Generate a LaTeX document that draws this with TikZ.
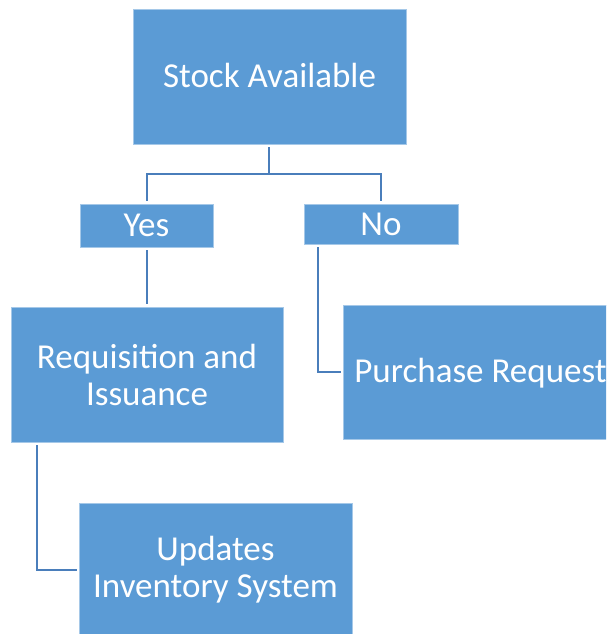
\documentclass[tikz,border=0pt]{standalone}
\usepackage{fontspec}
\setmainfont{Carlito}
\definecolor{boxblue}{HTML}{5B9BD5}
\definecolor{linkblue}{HTML}{4A7EBB}
\tikzset{
  block/.style={rectangle, fill=boxblue, draw=white!45!boxblue, line width=0.8pt,
    text=white, align=center, inner sep=0pt,
    font=\fontsize{35}{37}\selectfont},
  link/.style={draw=linkblue, line width=2pt}
}
\begin{document}
\begin{tikzpicture}[x=1pt,y=-1pt]
  \useasboundingbox (0,0) rectangle (606,634);
  \clip (0,0) rectangle (606,634);

  % boxes
  \node[block, minimum width=273pt, minimum height=135pt] (stock) at (269.5,76.5) {\raisebox{1.5pt}{Stock Available}};
  \node[block, minimum width=133pt, minimum height=43pt] (yes) at (146.5,225.5) {Yes};
  \node[block, minimum width=154pt, minimum height=40pt] (no) at (381,224) {No};
  \node[block, minimum width=272pt, minimum height=135pt] (req) at (147,374.5) {Requisition and\\Issuance};
  \node[block, minimum width=277pt, minimum height=134pt] (pur) at (481.5,372) {};
  \node[block, anchor=west, fill=none, draw=none] (purtext) at (354,373.5) {Purchase Request};
  \node[block, minimum width=273pt, minimum height=133pt] (upd) at (215.5,569.5) {Updates\\Inventory System};

  % connectors
  \coordinate (j) at (269,174);
  \draw[link, shorten <=3pt] (stock.south -| j) -- ([yshift=1pt]j);
  \draw[link, shorten <=3pt, shorten >=3pt] (yes.north) |- (j) -| (no.north);
  \draw[link, shorten <=3pt, shorten >=3pt] (yes.south) -- (yes.south |- req.north);
  \draw[link, shorten <=3pt, shorten >=2pt] ([xshift=14pt]no.south west) |- (pur.west);
  \draw[link, shorten <=3pt, shorten >=2pt] ([xshift=26pt]req.south west) |- (upd.west);
\end{tikzpicture}
\end{document}
